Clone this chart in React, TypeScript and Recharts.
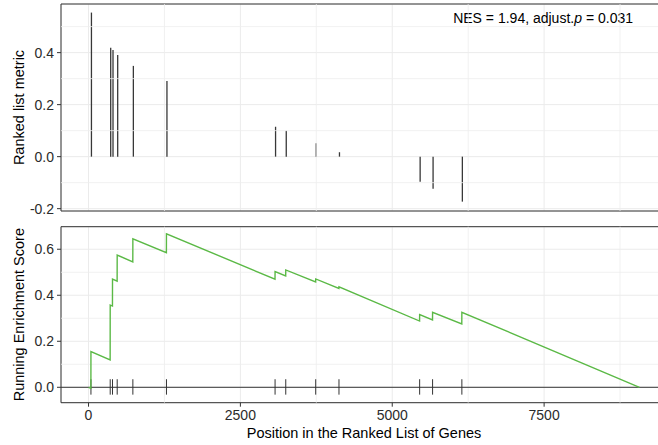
import React from 'react';
import {
  ComposedChart,
  Bar,
  Line,
  XAxis,
  YAxis,
  CartesianGrid,
  ReferenceLine,
  ReferenceArea,
} from 'recharts';

// Gene-set members: position in the ranked list and their ranking metric
const hitPositions = [40, 357, 395, 472, 730, 1283, 3071, 3247, 3740, 4123, 5451, 5664, 6146];
const rankedMetric = [0.554, 0.419, 0.41, 0.391, 0.349, 0.291, 0.115, 0.1, 0.052, 0.017, -0.097, -0.123, -0.173];

// Running enrichment score at the break points of the walk (just before / at each hit)
const esPositions = [1, 39, 40, 356, 357, 394, 395, 471, 472, 729, 730, 1282, 1283, 3070, 3071, 3246, 3247, 3739, 3740, 4122, 4123, 5450, 5451, 5663, 5664, 6145, 6146, 9070];
const esScores = [0, -0.004, 0.155, 0.119, 0.357, 0.353, 0.47, 0.461, 0.575, 0.545, 0.645, 0.585, 0.667, 0.47, 0.503, 0.484, 0.51, 0.458, 0.471, 0.43, 0.437, 0.288, 0.316, 0.293, 0.326, 0.275, 0.326, 0];

const xTicks = [0, 2500, 5000, 7500];
const xMinorTicks = [1250, 3750, 6250, 8750];
const metricTicks = [-0.2, 0, 0.2, 0.4];
const metricMinorTicks = [-0.1, 0.1, 0.3, 0.5];
const esTicks = [0, 0.2, 0.4, 0.6];
const esMinorTicks = [0.1, 0.3, 0.5];

const nesText = 'NES = 1.94, adjust.';
const pSymbol = 'p';
const pValueText = ' = 0.031';
const metricTitle = 'Ranked list metric';
const esTitle = 'Running Enrichment Score';
const xTitle = 'Position in the Ranked List of Genes';

const xDomain: [number, number] = [-453, 9523];
const metricDomain: [number, number] = [-0.209, 0.587];
const esDomain: [number, number] = [-0.067, 0.698];

const hitData = hitPositions.map((pos, i) => ({ pos, metric: rankedMetric[i] }));
const esData = esPositions.map((pos, i) => ({ pos, es: esScores[i] }));

const FONT = '"Liberation Sans", Arial, Helvetica, sans-serif';
const INK = '#333333';
const GRID = '#EBEBEB';
const GRID_MINOR = '#EDEDED';
const GREEN = '#5BB946';
const fmt = (v: number) => v.toFixed(1);

const tickStyle = { fontSize: 14, fill: '#2b2b2b', fontFamily: FONT };

function yTitle(text: string) {
  return (props: any) => {
    const vb = props.viewBox || {};
    const cy = vb.y + vb.height / 2;
    const x = 24;
    return (
      <text
        x={x}
        y={cy}
        transform={`rotate(-90, ${x}, ${cy})`}
        textAnchor="middle"
        fontSize={14.5}
        fill="#000"
        fontFamily={FONT}
      >
        {text}
      </text>
    );
  };
}

function xTitleLabel(props: any) {
  const vb = props.viewBox || {};
  return (
    <text
      x={vb.x + vb.width / 2}
      y={vb.y + 35.3}
      textAnchor="middle"
      fontSize={14.5}
      fill="#000"
      fontFamily={FONT}
    >
      {xTitle}
    </text>
  );
}

function nesLabel(props: any) {
  const vb = props.viewBox || {};
  return (
    <text
      x={vb.x + vb.width - 34}
      y={vb.y + 18.7}
      textAnchor="end"
      fontSize={14}
      fill="#000"
      fontFamily={FONT}
    >
      {nesText}
      <tspan fontStyle="italic">{pSymbol}</tspan>
      {pValueText}
    </text>
  );
}

const CHART_W = 690;
const RIGHT = 23;

export default function App() {
  return (
    <div
      style={{
        position: 'absolute',
        left: 0,
        top: 0,
        width: 658,
        height: 445,
        overflow: 'hidden',
        background: '#fff',
      }}
    >
      {/* Upper panel: ranking metric of each gene-set member */}
      <div style={{ position: 'absolute', left: 0, top: 0 }}>
        <ComposedChart
          width={CHART_W}
          height={222}
          data={hitData}
          margin={{ top: 4, right: RIGHT, bottom: 11, left: 0 }}
        >
          <CartesianGrid stroke={GRID} strokeWidth={1} />
          <XAxis
            dataKey="pos"
            type="number"
            domain={xDomain}
            ticks={xTicks}
            interval={0}
            allowDataOverflow
            hide
          />
          <YAxis
            type="number"
            domain={metricDomain}
            ticks={metricTicks}
            interval={0}
            allowDataOverflow
            width={61}
            axisLine={false}
            tickSize={4}
            tickMargin={3}
            tickLine={{ stroke: INK }}
            tick={tickStyle}
            tickFormatter={fmt}
            label={yTitle(metricTitle)}
          />
          {xMinorTicks.map((v) => (
            <ReferenceLine key={`vx${v}`} x={v} stroke={GRID_MINOR} strokeWidth={0.8} />
          ))}
          {metricMinorTicks.map((v) => (
            <ReferenceLine key={`hy${v}`} y={v} stroke={GRID_MINOR} strokeWidth={0.8} />
          ))}
          <Bar dataKey="metric" barSize={1.3} fill="#383838" isAnimationActive={false} />
          <ReferenceArea
            x1={xDomain[0]}
            x2={xDomain[1]}
            y1={metricDomain[0]}
            y2={metricDomain[1]}
            fill="none"
            stroke={INK}
            strokeWidth={1}
            label={nesLabel}
          />
        </ComposedChart>
      </div>

      {/* Lower panel: running enrichment score with hit rug */}
      <div style={{ position: 'absolute', left: 0, top: 222 }}>
        <ComposedChart
          width={CHART_W}
          height={223}
          data={esData}
          margin={{ top: 4.7, right: RIGHT, bottom: 0, left: 0 }}
        >
          <CartesianGrid stroke={GRID} strokeWidth={1} />
          <XAxis
            dataKey="pos"
            type="number"
            domain={xDomain}
            ticks={xTicks}
            interval={0}
            allowDataOverflow
            height={42.3}
            axisLine={false}
            tickSize={4}
            tickMargin={3.5}
            tickLine={{ stroke: INK }}
            tick={tickStyle}
            label={xTitleLabel}
          />
          <YAxis
            type="number"
            domain={esDomain}
            ticks={esTicks}
            interval={0}
            allowDataOverflow
            width={61}
            axisLine={false}
            tickSize={4}
            tickMargin={3}
            tickLine={{ stroke: INK }}
            tick={tickStyle}
            tickFormatter={fmt}
            label={yTitle(esTitle)}
          />
          {xMinorTicks.map((v) => (
            <ReferenceLine key={`vx${v}`} x={v} stroke={GRID_MINOR} strokeWidth={0.8} />
          ))}
          {esMinorTicks.map((v) => (
            <ReferenceLine key={`hy${v}`} y={v} stroke={GRID_MINOR} strokeWidth={0.8} />
          ))}
          <ReferenceLine y={0} stroke={INK} strokeWidth={1} />
          {hitPositions.map((p) => (
            <ReferenceLine
              key={`rug${p}`}
              segment={[
                { x: p, y: -0.032 },
                { x: p, y: 0.035 },
              ]}
              stroke={INK}
              strokeWidth={1}
            />
          ))}
          <Line
            dataKey="es"
            type="linear"
            stroke={GREEN}
            strokeWidth={1.4}
            dot={false}
            activeDot={false}
            isAnimationActive={false}
          />
          <ReferenceArea
            x1={xDomain[0]}
            x2={xDomain[1]}
            y1={esDomain[0]}
            y2={esDomain[1]}
            fill="none"
            stroke={INK}
            strokeWidth={1}
          />
        </ComposedChart>
      </div>
    </div>
  );
}
